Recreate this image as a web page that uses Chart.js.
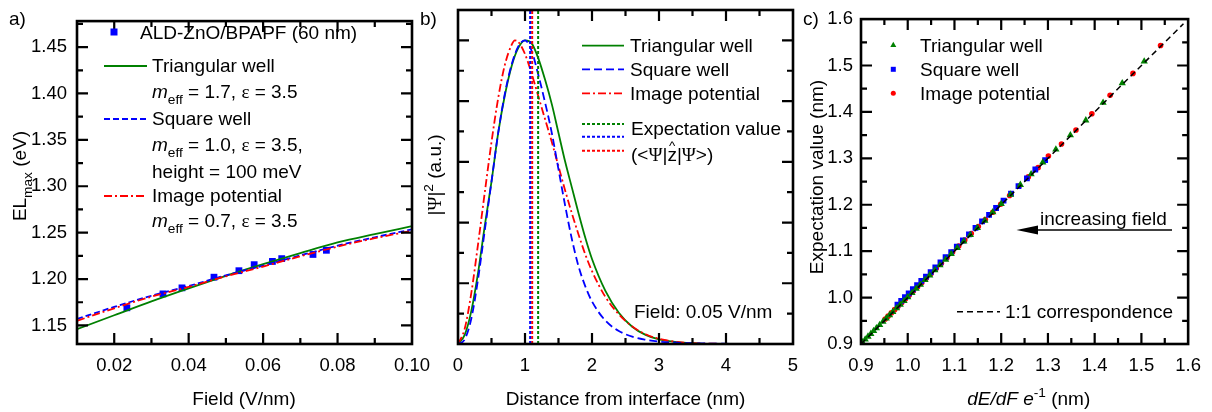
<!DOCTYPE html>
<html><head><meta charset="utf-8">
<script src="https://cdn.jsdelivr.net/npm/chart.js@4"></script>
<style>
html,body{margin:0;padding:0;background:#fff;}
#wrap{position:relative;width:1212px;height:412px;overflow:hidden;}
canvas{position:absolute;left:0;top:0;}
</style></head><body>
<div id="wrap">
<canvas id="ca" width="1212" height="412"></canvas>
<canvas id="cb" width="1212" height="412"></canvas>
<canvas id="cc" width="1212" height="412"></canvas>
</div>
<script>
// ---------- Panel a data ----------
const aDataField = [0.0234, 0.0331, 0.0382, 0.0468, 0.0535, 0.0576, 0.0625, 0.0650, 0.0734, 0.0770];
const aDataEL    = [1.169, 1.184, 1.1905, 1.202, 1.209, 1.2155, 1.219, 1.222, 1.2265, 1.231];
const aFitField  = [0.01, 0.02, 0.03, 0.04, 0.05, 0.06, 0.07, 0.08, 0.09, 0.10];
const aFitTri    = [1.146, 1.161, 1.176, 1.190, 1.2035, 1.216, 1.228, 1.2395, 1.2485, 1.257];
const aFitSquare = [1.157, 1.170, 1.182, 1.1925, 1.204, 1.2145, 1.2255, 1.236, 1.245, 1.2535];
const aFitImage  = [1.155, 1.1685, 1.181, 1.1915, 1.203, 1.2135, 1.2245, 1.235, 1.244, 1.252];
const aXTicks = [0.02, 0.04, 0.06, 0.08, 0.10];
const aXTickLabels = ['0.02', '0.04', '0.06', '0.08', '0.10'];
const aXMinor = [0.01, 0.03, 0.05, 0.07, 0.09];
const aYTicks = [1.15, 1.20, 1.25, 1.30, 1.35, 1.40, 1.45];
const aYTickLabels = ['1.15', '1.20', '1.25', '1.30', '1.35', '1.40', '1.45'];
const aYMinor = [1.175, 1.225, 1.275, 1.325, 1.375, 1.425, 1.475];

// ---------- Panel b data ----------
const bTriX = [0,0.1,0.2,0.3,0.4,0.5,0.6,0.7,0.8,0.9,1.0,1.1,1.2,1.3,1.4,1.5,1.6,1.7,1.8,1.9,2.0,2.2,2.4,2.6,2.8,3.0,3.3,3.6,4.0,5.0];
const bTriY = [0,0.03,0.11,0.235,0.39,0.535,0.695,0.82,0.915,0.975,1.0,0.99,0.94,0.87,0.79,0.695,0.6,0.515,0.43,0.35,0.28,0.175,0.103,0.057,0.03,0.015,0.005,0.0015,0.0003,0];
const bSqX  = [0,0.1,0.2,0.3,0.4,0.5,0.6,0.7,0.8,0.9,1.0,1.1,1.2,1.3,1.4,1.5,1.6,1.7,1.8,1.9,2.0,2.2,2.4,2.6,2.8,3.0,3.3,3.6,4.0,5.0];
const bSqY  = [0,0.015,0.085,0.215,0.375,0.535,0.695,0.825,0.92,0.98,1.0,0.965,0.885,0.795,0.695,0.575,0.455,0.345,0.255,0.19,0.14,0.077,0.043,0.024,0.014,0.008,0.004,0.002,0.0008,0];
const bImX  = [0,0.1,0.2,0.3,0.4,0.5,0.6,0.7,0.8,0.85,0.9,1.0,1.1,1.2,1.3,1.4,1.5,1.6,1.7,1.8,1.9,2.0,2.2,2.4,2.6,2.8,3.0,3.3,3.6,4.0,5.0];
const bImY  = [0,0.05,0.17,0.33,0.50,0.665,0.81,0.92,0.985,1.0,0.995,0.955,0.89,0.815,0.74,0.665,0.585,0.505,0.43,0.36,0.295,0.24,0.155,0.098,0.058,0.032,0.017,0.006,0.002,0.0005,0];
const bExpTri = 1.196, bExpSq = 1.077, bExpIm = 1.107;
const bXTicks = [0, 1, 2, 3, 4, 5];
const bXTickLabels = ['0', '1', '2', '3', '4', '5'];
const bXMinor = [0.5, 1.5, 2.5, 3.5, 4.5];
const bYMajor = [0.2, 0.4, 0.6, 0.8, 1.0];
const bYMinor = [0.1, 0.3, 0.5, 0.7, 0.9];

// ---------- Panel c data ----------
const cTriX = [0.903,0.909,0.915,0.921,0.927,0.933,0.940,0.947,0.954,0.961,0.968,0.976,0.984,0.992,1.000,1.009,1.018,1.027,1.037,1.047,1.058,1.069,1.081,1.093,1.106,1.120,1.134,1.149,1.165,1.182,1.200,1.220,1.241,1.264,1.289,1.317,1.348,1.381,1.418,1.459,1.506];
const cTriY = [0.904,0.910,0.916,0.922,0.928,0.934,0.941,0.948,0.955,0.962,0.969,0.977,0.985,0.993,1.001,1.010,1.019,1.028,1.038,1.048,1.059,1.070,1.082,1.094,1.107,1.121,1.135,1.150,1.166,1.184,1.202,1.222,1.243,1.266,1.291,1.319,1.350,1.382,1.420,1.462,1.509];
const cSqX  = [0.978,0.986,0.994,1.002,1.011,1.020,1.029,1.039,1.049,1.059,1.070,1.081,1.093,1.105,1.118,1.131,1.145,1.159,1.174,1.189,1.205,1.221,1.237,1.255,1.273,1.294];
const cSqY  = [0.985,0.993,1.001,1.009,1.018,1.027,1.036,1.045,1.055,1.065,1.076,1.087,1.098,1.110,1.123,1.136,1.150,1.164,1.178,1.193,1.209,1.224,1.240,1.257,1.276,1.296];
const cImX  = [0.952,0.958,0.965,0.972,0.979,0.987,0.995,1.003,1.012,1.021,1.030,1.040,1.050,1.061,1.072,1.084,1.096,1.109,1.122,1.136,1.151,1.166,1.182,1.199,1.218,1.238,1.258,1.279,1.301,1.329,1.360,1.394,1.433,1.482,1.541];
const cImY  = [0.954,0.960,0.967,0.974,0.981,0.989,0.997,1.005,1.014,1.023,1.032,1.042,1.052,1.063,1.074,1.086,1.098,1.111,1.124,1.138,1.153,1.168,1.184,1.201,1.220,1.240,1.260,1.280,1.305,1.331,1.361,1.396,1.436,1.483,1.543];
const cLineX = [0.9, 1.59];
const cLineY = [0.9, 1.59];
const cTicks = [0.9, 1.0, 1.1, 1.2, 1.3, 1.4, 1.5, 1.6];
const cTickLabels = ['0.9', '1.0', '1.1', '1.2', '1.3', '1.4', '1.5', '1.6'];
const cMinor = [0.95, 1.05, 1.15, 1.25, 1.35, 1.45, 1.55];

// ---------- styling ----------
const GREEN = '#008000', BLUE = '#0000ff', RED = '#ff0000';
const FONT = '"Liberation Sans", Arial, Helvetica, sans-serif';
const SERIF = '"Liberation Serif", "Times New Roman", serif';
const TS = 19;
Chart.defaults.font.family = FONT;
Chart.defaults.font.size = 18.5;
Chart.defaults.color = '#000';

const pts = (xs, ys) => xs.map((x, i) => ({x, y: ys[i]}));

function rich(ctx, x, y, parts, opt) {
  opt = opt || {};
  const base = opt.size || TS;
  ctx.save();
  ctx.translate(x, y);
  if (opt.rot) ctx.rotate(opt.rot);
  let w = 0;
  const items = parts.map(p => {
    if (typeof p === 'string') p = {t: p};
    const sz = (p.sub || p.sup) ? base * 0.72 : base;
    const font = (p.it ? 'italic ' : '') + sz + 'px ' + (p.serif ? SERIF : FONT);
    ctx.font = font;
    const wd = ctx.measureText(p.t).width;
    w += wd;
    return Object.assign({}, p, {font, wd, sz, dy: p.sub ? base * 0.3 : (p.sup ? -base * 0.4 : 0)});
  });
  let cx = opt.align === 'center' ? -w / 2 : 0;
  ctx.textBaseline = 'alphabetic';
  ctx.textAlign = 'left';
  ctx.fillStyle = '#000';
  const bl = base * 0.36;
  items.forEach(it => {
    ctx.font = it.font;
    ctx.fillText(it.t, cx, bl + it.dy);
    if (it.hat) {
      ctx.font = (base * 0.7) + 'px ' + FONT;
      ctx.textAlign = 'center';
      ctx.fillText('^', cx + it.wd / 2, bl - base * 0.62);
      ctx.textAlign = 'left';
    }
    cx += it.wd;
  });
  ctx.restore();
}

function seg(ctx, x1, x2, y, color, dash, lw) {
  ctx.save();
  ctx.strokeStyle = color; ctx.lineWidth = lw || 1.8; ctx.setLineDash(dash || []);
  ctx.beginPath(); ctx.moveTo(x1, y); ctx.lineTo(x2, y); ctx.stroke();
  ctx.restore();
}

function marker(ctx, style, x, y, size, color) {
  ctx.save(); ctx.fillStyle = color; ctx.beginPath();
  if (style === 'rect') ctx.rect(x - size / 2, y - size / 2, size, size);
  else if (style === 'circle') ctx.arc(x, y, size / 2, 0, Math.PI * 2);
  else { const h = size * 0.87; ctx.moveTo(x, y - h * 0.6); ctx.lineTo(x + size / 2, y + h * 0.4); ctx.lineTo(x - size / 2, y + h * 0.4); ctx.closePath(); }
  ctx.fill(); ctx.restore();
}

function frameTicks(cfg) {
  return {
    id: 'frameTicks',
    afterDatasetsDraw(chart) {
      const ctx = chart.ctx, a = chart.chartArea, X = chart.scales.x, Y = chart.scales.y;
      ctx.save();
      ctx.strokeStyle = '#000'; ctx.lineWidth = 2.2; ctx.setLineDash([]);
      ctx.beginPath();
      const xt = (vals, len) => vals.forEach(v => {
        const p = X.getPixelForValue(v);
        if (p <= a.left + 1.5 || p >= a.right - 1.5) return;
        ctx.moveTo(p, a.bottom); ctx.lineTo(p, a.bottom - len);
        ctx.moveTo(p, a.top); ctx.lineTo(p, a.top + len);
      });
      const yt = (vals, len) => vals.forEach(v => {
        const p = Y.getPixelForValue(v);
        if (p <= a.top + 1.5 || p >= a.bottom - 1.5) return;
        ctx.moveTo(a.left, p); ctx.lineTo(a.left + len, p);
        ctx.moveTo(a.right, p); ctx.lineTo(a.right - len, p);
      });
      xt(cfg.xMajor, 11); xt(cfg.xMinor, 6); yt(cfg.yMajor, 11); yt(cfg.yMinor, 6);
      ctx.stroke();
      ctx.lineWidth = 2.6;
      ctx.strokeRect(a.left, a.top, a.right - a.left, a.bottom - a.top);
      ctx.restore();
    },
    afterDraw(chart) { cfg.deco(chart.ctx); }
  };
}

function makeOpts(area, xr, yr) {
  return {
    responsive: false, animation: false, events: [],
    layout: {autoPadding: false, padding: {left: 0, top: area.top, right: 1212 - area.right, bottom: 0}},
    plugins: {legend: {display: false}, tooltip: {enabled: false}},
    scales: {
      x: {
        type: 'linear', position: 'bottom', min: xr.min, max: xr.max,
        grid: {display: false, drawTicks: false}, border: {display: false},
        ticks: {display: true, padding: 11, autoSkip: false, maxRotation: 0, color: '#000',
                callback: (v, i) => xr.labels[i]},
        afterBuildTicks: s => { s.ticks = xr.ticks.map(v => ({value: v})); },
        afterFit: s => { s.height = 412 - area.bottom; }
      },
      y: {
        type: 'linear', position: 'left', min: yr.min, max: yr.max,
        grid: {display: false, drawTicks: false}, border: {display: false},
        ticks: {display: yr.show, padding: yr.pad || 10, autoSkip: false, color: '#000',
                callback: (v, i) => yr.labels ? yr.labels[i] : ''},
        afterBuildTicks: s => { s.ticks = yr.ticks.map(v => ({value: v})); },
        afterFit: s => { s.width = area.left; }
      }
    }
  };
}

// ---------- Chart a ----------
new Chart(document.getElementById('ca'), {
  type: 'scatter',
  data: {datasets: [
    {data: pts(aFitField, aFitImage), showLine: true, borderColor: RED, borderWidth: 1.8, borderDash: [8, 3, 2, 3], pointRadius: 0, cubicInterpolationMode: 'monotone', order: 0},
    {data: pts(aFitField, aFitSquare), showLine: true, borderColor: BLUE, borderWidth: 1.8, borderDash: [6, 3], pointRadius: 0, cubicInterpolationMode: 'monotone', order: 1},
    {data: pts(aFitField, aFitTri), showLine: true, borderColor: GREEN, borderWidth: 1.8, pointRadius: 0, cubicInterpolationMode: 'monotone', order: 2},
    {data: pts(aDataField, aDataEL), pointStyle: 'rect', pointRadius: 4.8, backgroundColor: BLUE, borderWidth: 0, order: 3}
  ]},
  options: makeOpts({left: 77, right: 412, top: 10, bottom: 344},
    {min: 0.01, max: 0.10, ticks: aXTicks, labels: aXTickLabels},
    {min: 1.13, max: 1.478, ticks: aYTicks, labels: aYTickLabels, show: true, pad: 10}),
  plugins: [frameTicks({xMajor: aXTicks, xMinor: aXMinor, yMajor: aYTicks, yMinor: aYMinor, deco: ctx => {
    rich(ctx, 9, 18, ['a)']);
    rich(ctx, 19, 176, ['EL', {t: 'max', sub: true}, ' (eV)'], {align: 'center', rot: -Math.PI / 2});
    rich(ctx, 244, 398, ['Field (V/nm)'], {align: 'center'});
    marker(ctx, 'rect', 114, 32, 7, BLUE);
    rich(ctx, 140, 32, ['ALD-ZnO/BPAPF (60 nm)']);
    seg(ctx, 104, 147, 66, GREEN);
    rich(ctx, 152, 65, ['Triangular well']);
    rich(ctx, 152, 91, [{t: 'm', it: true}, {t: 'eff', sub: true}, ' = 1.7, ', {t: 'ε', serif: true}, ' = 3.5']);
    seg(ctx, 104, 147, 119, BLUE, [6, 3]);
    rich(ctx, 152, 118, ['Square well']);
    rich(ctx, 152, 144, [{t: 'm', it: true}, {t: 'eff', sub: true}, ' = 1.0, ', {t: 'ε', serif: true}, ' = 3.5,']);
    rich(ctx, 152, 171, ['height = 100 meV']);
    seg(ctx, 104, 147, 196, RED, [8, 3, 2, 3]);
    rich(ctx, 152, 195, ['Image potential']);
    rich(ctx, 152, 220, [{t: 'm', it: true}, {t: 'eff', sub: true}, ' = 0.7, ', {t: 'ε', serif: true}, ' = 3.5']);
  }})]
});

// ---------- Chart b ----------
new Chart(document.getElementById('cb'), {
  type: 'scatter',
  data: {datasets: [
    {data: pts([bExpSq, bExpSq], [0, 1.1]), showLine: true, borderColor: BLUE, borderWidth: 2, borderDash: [3, 2], pointRadius: 0, order: 0},
    {data: pts([bExpIm, bExpIm], [0, 1.1]), showLine: true, borderColor: RED, borderWidth: 2, borderDash: [3, 2], pointRadius: 0, order: 0},
    {data: pts([bExpTri, bExpTri], [0, 1.1]), showLine: true, borderColor: GREEN, borderWidth: 2, borderDash: [3, 2], pointRadius: 0, order: 0},
    {data: pts(bSqX, bSqY), showLine: true, borderColor: BLUE, borderWidth: 1.8, borderDash: [8, 4], pointRadius: 0, cubicInterpolationMode: 'monotone', order: 1},
    {data: pts(bImX, bImY), showLine: true, borderColor: RED, borderWidth: 1.8, borderDash: [8, 3, 2, 3], pointRadius: 0, cubicInterpolationMode: 'monotone', order: 2},
    {data: pts(bTriX, bTriY), showLine: true, borderColor: GREEN, borderWidth: 1.8, pointRadius: 0, cubicInterpolationMode: 'monotone', order: 3}
  ]},
  options: makeOpts({left: 458, right: 793, top: 10, bottom: 344},
    {min: 0, max: 5, ticks: bXTicks, labels: bXTickLabels},
    {min: 0, max: 1.1, ticks: bYMajor, show: false}),
  plugins: [frameTicks({xMajor: bXTicks, xMinor: bXMinor, yMajor: bYMajor, yMinor: bYMinor, deco: ctx => {
    rich(ctx, 420, 18, ['b)']);
    rich(ctx, 434, 175, ['|', {t: 'Ψ', serif: true}, '|', {t: '2', sup: true}, ' (a.u.)'], {align: 'center', rot: -Math.PI / 2});
    rich(ctx, 625.5, 398, ['Distance from interface (nm)'], {align: 'center'});
    seg(ctx, 582, 624, 45.7, GREEN);
    rich(ctx, 630, 45, ['Triangular well']);
    seg(ctx, 582, 624, 69.3, BLUE, [8, 4]);
    rich(ctx, 630, 69, ['Square well']);
    seg(ctx, 582, 624, 93.3, RED, [8, 3, 2, 3]);
    rich(ctx, 630, 93, ['Image potential']);
    seg(ctx, 582, 624, 124, GREEN, [3, 2], 2);
    seg(ctx, 582, 624, 136.7, BLUE, [3, 2], 2);
    seg(ctx, 582, 624, 150.7, RED, [3, 2], 2);
    rich(ctx, 631, 128, ['Expectation value']);
    rich(ctx, 631, 154.5, ['(<', {t: 'Ψ', serif: true}, '|', {t: 'z', hat: true}, '|', {t: 'Ψ', serif: true}, '>)']);
    rich(ctx, 634, 311, ['Field: 0.05 V/nm']);
  }})]
});

// ---------- Chart c ----------
new Chart(document.getElementById('cc'), {
  type: 'scatter',
  data: {datasets: [
    {data: pts(cLineX, cLineY), showLine: true, borderColor: '#000', borderWidth: 1.5, borderDash: [6, 4], pointRadius: 0, order: 0},
    {data: pts(cTriX, cTriY), pointStyle: 'triangle', pointRadius: 4.2, backgroundColor: GREEN, borderWidth: 0, order: 1},
    {data: pts(cSqX, cSqY), pointStyle: 'rect', pointRadius: 4.1, backgroundColor: BLUE, borderWidth: 0, order: 2},
    {data: pts(cImX, cImY), pointStyle: 'circle', pointRadius: 2.8, backgroundColor: RED, borderWidth: 0, order: 3}
  ]},
  options: makeOpts({left: 861, right: 1197, top: 10, bottom: 344},
    {min: 0.9, max: 1.6, ticks: cTicks, labels: cTickLabels},
    {min: 0.9, max: 1.6, ticks: cTicks, labels: cTickLabels, show: true, pad: 8}),
  plugins: [frameTicks({xMajor: cTicks, xMinor: cMinor, yMajor: cTicks, yMinor: cMinor, deco: ctx => {
    rich(ctx, 803, 18, ['c)']);
    rich(ctx, 816, 177, ['Expectation value (nm)'], {align: 'center', rot: -Math.PI / 2});
    rich(ctx, 1028.7, 398, [{t: 'dE', it: true}, {t: '/', it: true}, {t: 'dF', it: true}, {t: ' e', it: true}, {t: '-1', sup: true}, ' (nm)'], {align: 'center'});
    marker(ctx, 'triangle', 893.3, 45, 6, GREEN);
    rich(ctx, 920, 45, ['Triangular well']);
    marker(ctx, 'rect', 893.3, 69.3, 5, BLUE);
    rich(ctx, 920, 69, ['Square well']);
    marker(ctx, 'circle', 893.3, 93.3, 5, RED);
    rich(ctx, 920, 93, ['Image potential']);
    rich(ctx, 1040, 218, ['increasing field']);
    seg(ctx, 1034, 1172, 230, '#000', [], 1.6);
    ctx.save(); ctx.fillStyle = '#000'; ctx.beginPath();
    ctx.moveTo(1016.5, 230); ctx.lineTo(1038, 225.5); ctx.lineTo(1038, 234.5); ctx.closePath(); ctx.fill(); ctx.restore();
    seg(ctx, 957, 1000, 311.7, '#000', [6, 4], 1.5);
    rich(ctx, 1005, 311.5, ['1:1 correspondence']);
  }})]
});
</script>
</body></html>
